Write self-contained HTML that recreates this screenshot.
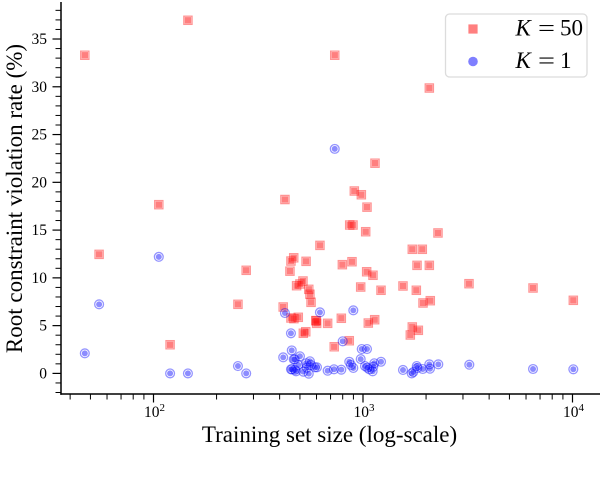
<!DOCTYPE html>
<html><head><meta charset="utf-8"><title>Root constraint violation rate</title>
<style>
html,body{margin:0;padding:0;background:#fff;width:600px;height:478px;overflow:hidden}
svg{display:block}
text{font-family:"Liberation Serif",serif;fill:#000}
</style></head>
<body>
<svg id="chart" width="600" height="478" viewBox="0 0 600 478" xmlns="http://www.w3.org/2000/svg">
<g id="marks"></g>
<g id="axes"></g>
<text x="329.5" y="442" text-anchor="middle" font-size="23">Training set size (log-scale)</text>
<text transform="translate(22,198.5) rotate(-90)" text-anchor="middle" font-size="23">Root constraint violation rate (%)</text>
<g>
<rect x="445.5" y="14" width="141.5" height="63" rx="4" fill="#fff" fill-opacity="0.85" stroke="#dcdcdc" stroke-width="1.3"/>
<g id="legend-red"></g>
<g id="legend-blue"></g>
<g font-size="23">
<text x="515.5" y="35.5" font-style="italic">K</text><text x="538" y="35.5" textLength="17" lengthAdjust="spacingAndGlyphs">=</text><text x="560" y="35.5">50</text>
</g>
<g font-size="23">
<text x="515.5" y="68" font-style="italic">K</text><text x="538" y="68" textLength="17" lengthAdjust="spacingAndGlyphs">=</text><text x="560" y="68">1</text>
</g>
</g>
</svg>
<script>
const redX=[47,146,106,424,733,2073,1141,909,982,1045,864,896,1030,2280,55,277,253,120,416,467,453,448,482,517,500,551,558,565,453,491,468,599,595,601,678,788,1060,1137,533,519,729,860,975,1219,1041,1116,623,1719,1919,535,797,886,1811,2073,1552,1797,3206,6480,10090,2095,1934,1719,1837,1682];
const redY=[33.3,36.96,17.66,18.2,33.3,29.87,22.0,19.09,18.7,17.4,15.53,15.53,14.83,14.7,12.46,10.79,7.23,3.0,6.95,12.1,11.76,10.7,9.18,9.67,9.36,8.8,8.28,7.44,5.8,5.87,5.73,5.52,5.52,5.24,5.24,5.77,5.27,5.62,4.36,4.2,2.79,3.42,9.04,8.7,10.64,10.27,13.4,12.99,12.99,11.73,11.38,11.69,11.31,11.31,9.15,8.7,9.39,8.94,7.65,7.61,7.37,4.86,4.51,4.02];
const blueX=[47,55,106,120,146,253,277,733,424,453,416,457,467,453,474,623,899,800,986,1045,500,472,975,558,535,860,876,899,1219,1132,1120,1022,1048,1072,1112,457,479,491,519,551,539,565,590,603,678,727,788,1552,1708,1738,1805,1817,1928,2073,2088,2288,3217,6480,10090];
const blueY=[2.1,7.23,12.2,0,0,0.77,0,23.5,6.32,4.2,1.68,2.41,1.47,0.43,0.36,6.39,6.6,3.36,2.55,2.55,1.79,1.47,1.5,1.27,1.06,1.22,0.88,0.57,1.22,1.06,0.7,0.77,0.6,0.43,0.22,0.43,0.22,0.88,0.18,-0.03,0.6,0.88,0.64,0.64,0.28,0.43,0.39,0.36,0,0.14,0.77,0.57,0.46,0.95,0.49,0.95,0.91,0.46,0.43];
const yMajorTicks=[0,5,10,15,20,25,30,35];
const yMinorTicks=[-2,-1,1,2,3,4,6,7,8,9,11,12,13,14,16,17,18,19,21,22,23,24,26,27,28,29,31,32,33,34,36,37,38];
const xMajorTicks=[100,1000,10000];
const xMajorExponents=["2","3","4"];
const xMinorTicks=[40,50,60,70,80,90,200,300,400,500,600,700,800,900,2000,3000,4000,5000,6000,7000,8000,9000];

const NS='http://www.w3.org/2000/svg';
function xScale(v){return 153.5+209.5*(Math.log10(v)-2);}
function yScale(v){return 373.4-9.554*v;}
function make(tag,attrs,parent){
  const el=document.createElementNS(NS,tag);
  for(const k in attrs){el.setAttribute(k,attrs[k]);}
  parent.appendChild(el);
  return el;
}
function drawSquare(parent,cx,cy,solid){
  if(solid){
    make('rect',{x:cx-4.6,y:cy-4.6,width:9.2,height:9.2,fill:'#ff0000','fill-opacity':0.5},parent);
    return;
  }
  make('rect',{x:cx-4.1,y:cy-4.1,width:8.2,height:8.2,fill:'none',stroke:'#ff0000','stroke-opacity':0.42,'stroke-width':1.3},parent);
  make('rect',{x:cx-3.2,y:cy-3.2,width:6.4,height:6.4,fill:'#ff0000','fill-opacity':0.5},parent);
}
function drawCircle(parent,cx,cy,solid){
  if(solid){
    make('circle',{cx:cx,cy:cy,r:4.8,fill:'#0000ff','fill-opacity':0.5},parent);
    return;
  }
  make('circle',{cx:cx,cy:cy,r:4.4,fill:'none',stroke:'#0000ff','stroke-opacity':0.42,'stroke-width':1.3},parent);
  make('circle',{cx:cx,cy:cy,r:3,fill:'#0000ff','fill-opacity':0.45},parent);
}
const marks=document.getElementById('marks');
const axes=document.getElementById('axes');
redX.forEach(function(v,i){
  const g=make('g',{},marks);
  
  
  drawSquare(g,xScale(v),yScale(redY[i]),false);
});
blueX.forEach(function(v,i){
  const g=make('g',{},marks);
  
  
  drawCircle(g,xScale(v),yScale(blueY[i]),false);
});
drawSquare(document.getElementById('legend-red'),473,29,true);
drawCircle(document.getElementById('legend-blue'),473,61.5,true);

const spineL=make('line',{x1:61,y1:2,x2:61,y2:394.7,stroke:'#000','stroke-width':1.5},axes);


const spineB=make('line',{x1:60.3,y1:394,x2:600,y2:394,stroke:'#000','stroke-width':1.5},axes);



yMinorTicks.forEach(function(v){
  const t=make('line',{x1:55.5,x2:61,y1:yScale(v),y2:yScale(v),stroke:'#000','stroke-width':1},axes);
  
  
});
yMajorTicks.forEach(function(v){
  const t=make('line',{x1:52.5,x2:61,y1:yScale(v),y2:yScale(v),stroke:'#000','stroke-width':1.2},axes);
  
  
  const l=make('text',{x:47,y:yScale(v)+5,'text-anchor':'end','font-size':15.5},axes);
  
  
  l.textContent=String(v);
});
xMinorTicks.forEach(function(v){
  const t=make('line',{x1:xScale(v),x2:xScale(v),y1:394,y2:399.5,stroke:'#000','stroke-width':1},axes);
  
  
});
xMajorTicks.forEach(function(v,i){
  const x=xScale(v);
  const t=make('line',{x1:x,x2:x,y1:394,y2:402.5,stroke:'#000','stroke-width':1.2},axes);
  
  
  const l=make('text',{x:x-9.5,y:417,'font-size':15.5},axes);
  
  
  l.textContent='10';
  const e=make('text',{x:x+6,y:411,'font-size':11},axes);
  
  
  e.textContent=xMajorExponents[i];
});
</script>
</body></html>
